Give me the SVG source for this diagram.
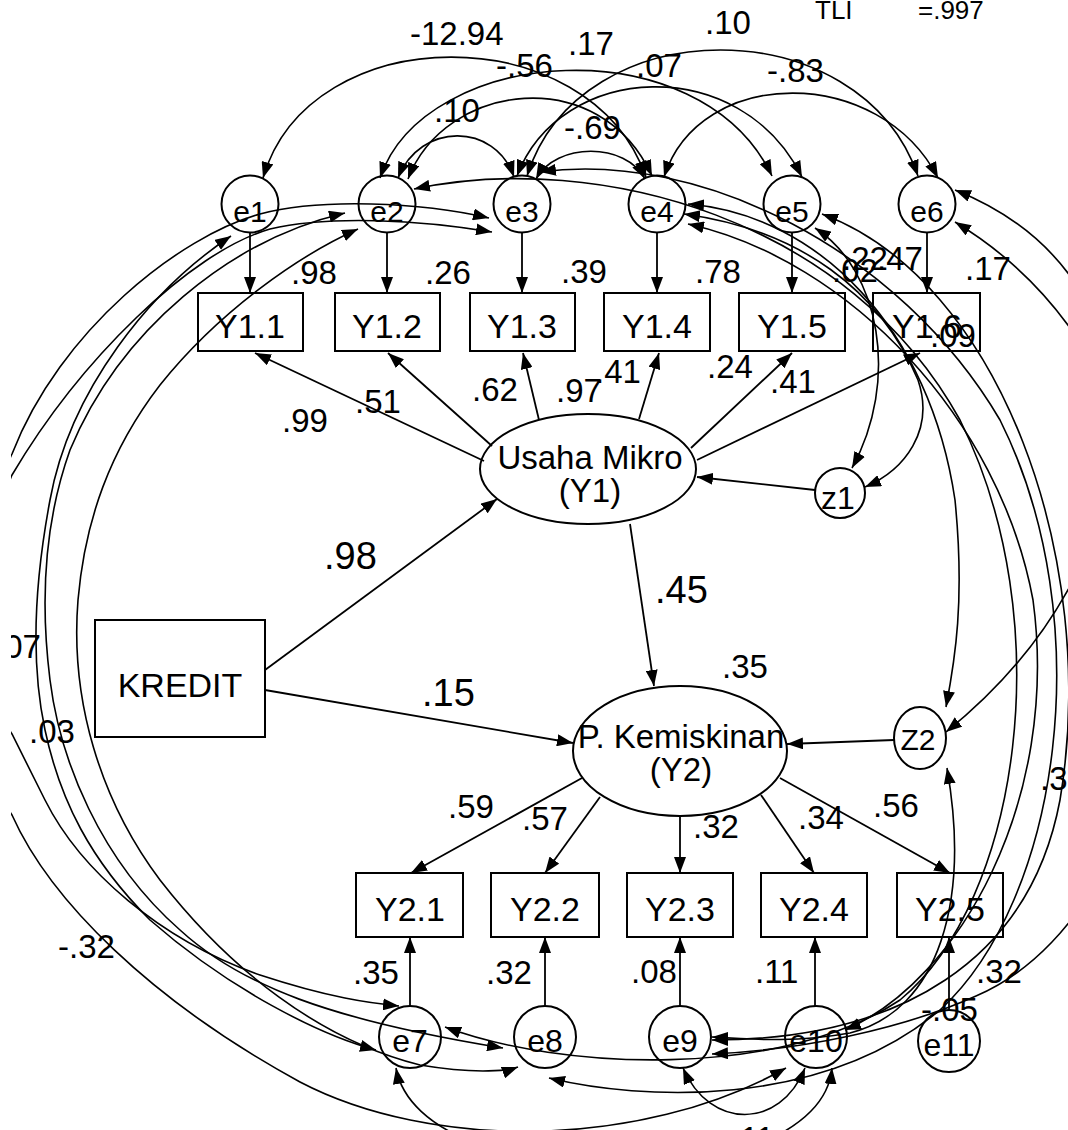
<svg xmlns="http://www.w3.org/2000/svg" width="1068" height="1130" viewBox="0 0 1068 1130">
<defs>
<marker id="ah" viewBox="0 0 16 12" refX="16" refY="6" markerWidth="16" markerHeight="12" markerUnits="userSpaceOnUse" orient="auto-start-reverse"><path d="M0,0 L16,6 L0,12 z" fill="#000"/></marker>
<clipPath id="clip"><rect x="11" y="0" width="1057" height="1130"/></clipPath>
</defs>
<style>
.nd{fill:none;stroke:#000;stroke-width:2}
.p{fill:none;stroke:#000;stroke-width:1.8;marker-end:url(#ah)}
.c{fill:none;stroke:#000;stroke-width:1.6;marker-start:url(#ah);marker-end:url(#ah)}
text{font-family:"Liberation Sans",Arial,sans-serif;fill:#000}
.bl{font-size:34px;text-anchor:middle}
.el{font-size:30px;text-anchor:middle}
.eb{font-size:32px;text-anchor:middle}
.nl{font-size:33px}
.sl{font-size:38px}
.fit{font-size:26px}
</style>
<rect width="1068" height="1130" fill="#fff"/>
<g clip-path="url(#clip)">
<g id="connectors">
<!-- top covariances -->
<path class="c" d="M263,178 C310,17 590,17 646,177"/>
<path class="c" d="M398,178 C420,122 495,122 514,177"/>
<path class="c" d="M380,178 C425,45 700,25 772,176"/>
<path class="c" d="M408,179 C445,82 600,62 652,176"/>
<path class="c" d="M536,179 C556,142 626,142 645,179"/>
<path class="c" d="M517,176 C560,62 740,52 802,177"/>
<path class="c" d="M527,176 C580,8 860,8 918,176"/>
<path class="c" d="M664,177 C700,65 880,65 938,178"/>
<!-- left covariances -->
<path class="c" d="M489,218 C420,202 320,198 260,214 C180,236 60,330 12,454 C-50,580 -50,720 12,815 C50,900 150,1000 300,1082 C430,1150 640,1150 786,1068"/>
<path class="c" d="M492,232 C420,220 330,215 270,229 C190,252 80,360 12,475 C-25,560 -25,680 12,734 C30,770 40,790 45,800 C80,870 160,940 260,975 C330,998 370,1003 399,1006"/>
<path class="c" d="M231,236 C150,290 70,390 50,500 C35,580 30,660 45,730 C60,800 90,860 150,920 C230,990 320,1035 376,1050"/>
<path class="c" d="M345,213 C230,240 120,330 70,450 C45,520 40,600 50,680 C60,760 100,860 180,930 C240,985 330,1020 503,1048"/>
<path class="c" d="M358,229 C300,255 220,310 160,385 C110,450 85,520 78,600 C70,700 100,800 160,880 C230,970 320,1040 420,1065 C480,1075 510,1070 518,1067"/>
<!-- right covariances -->
<path class="c" d="M414,189 C600,150 850,220 960,420 C1060,620 1020,900 900,1000 C780,1080 560,1070 445,1027"/>
<path class="c" d="M540,172 C700,150 900,250 1000,420 C1100,620 1060,900 940,1010 C820,1110 640,1100 549,1078"/>
<path class="c" d="M688,204 C820,215 930,330 955,500 C965,600 955,660 946,707"/>
<path class="c" d="M688,224 C850,260 1000,420 1033,600 C1060,800 960,980 845,1030"/>
<path class="c" d="M822,214 C1000,280 1100,560 1060,800 C1030,960 900,1040 712,1040"/>
<path class="c" d="M815,228 C880,270 900,380 852,468"/>
<path class="c" d="M684,214 C800,230 880,290 918,380 C935,430 905,470 865,487"/>
<path class="c" d="M955,190 C1180,280 1160,560 946,732"/>
<path class="c" d="M955,222 C1250,400 1200,900 976,996 C900,1030 800,1050 712,1054"/>
<path class="c" d="M947,768 C970,900 940,1010 850,1033 C800,1042 760,1040 712,1037"/>
<path class="c" d="M396,1068 C420,1200 820,1200 832,1068"/>
<path class="c" d="M683,1068 C710,1130 780,1130 805,1068"/>
<!-- regression paths -->
<path class="p" d="M484,461 L255,353"/>
<path class="p" d="M492,446 L388,353"/>
<path class="p" d="M539,420 L523,353"/>
<path class="p" d="M639,419 L659,353"/>
<path class="p" d="M691,448 L792,353"/>
<path class="p" d="M697,460 L920,353"/>
<path class="p" d="M815,490 L697,477"/>
<path class="p" d="M265,670 L497,499"/>
<path class="p" d="M265,690 L573,743"/>
<path class="p" d="M630,524 L654,686"/>
<path class="p" d="M894,740 L787,744"/>
<path class="p" d="M582,778 L411,873"/>
<path class="p" d="M600,797 L545,873"/>
<path class="p" d="M680,816 L680,873"/>
<path class="p" d="M761,795 L814,873"/>
<path class="p" d="M780,778 L950,873"/>
<path class="p" d="M250,232 L250,293"/>
<path class="p" d="M387,232 L387,293"/>
<path class="p" d="M522,232 L522,293"/>
<path class="p" d="M657,232 L657,293"/>
<path class="p" d="M792,232 L792,293"/>
<path class="p" d="M927,232 L927,293"/>
<path class="p" d="M410,1006 L410,937"/>
<path class="p" d="M545,1006 L545,937"/>
<path class="p" d="M680,1006 L680,937"/>
<path class="p" d="M815,1006 L815,937"/>
<path class="p" d="M949,1010 L949,937"/>
</g>
<g id="e1"><circle class="nd" cx="250" cy="204" r="28.5"/><text class="el" x="250" y="222">e1</text></g>
<g id="e2"><circle class="nd" cx="387" cy="204" r="28.5"/><text class="el" x="387" y="222">e2</text></g>
<g id="e3"><circle class="nd" cx="522" cy="204" r="28.5"/><text class="el" x="522" y="222">e3</text></g>
<g id="e4"><circle class="nd" cx="657" cy="204" r="28.5"/><text class="el" x="657" y="222">e4</text></g>
<g id="e5"><circle class="nd" cx="792" cy="204" r="28.5"/><text class="el" x="792" y="222">e5</text></g>
<g id="e6"><circle class="nd" cx="927" cy="204" r="28.5"/><text class="el" x="927" y="222">e6</text></g>
<g id="Y1.1"><rect class="nd" x="198" y="293" width="105" height="58"/><text class="bl" x="250" y="338">Y1.1</text></g>
<g id="Y1.2"><rect class="nd" x="335" y="293" width="105" height="58"/><text class="bl" x="387" y="338">Y1.2</text></g>
<g id="Y1.3"><rect class="nd" x="470" y="293" width="105" height="58"/><text class="bl" x="522" y="338">Y1.3</text></g>
<g id="Y1.4"><rect class="nd" x="604" y="293" width="106" height="58"/><text class="bl" x="657" y="338">Y1.4</text></g>
<g id="Y1.5"><rect class="nd" x="739" y="293" width="106" height="58"/><text class="bl" x="792" y="338">Y1.5</text></g>
<g id="Y1.6"><rect class="nd" x="873" y="293" width="107" height="58"/><text class="bl" x="927" y="338">Y1.6</text></g>
<g id="Y1"><ellipse class="nd" cx="588" cy="469" rx="108" ry="55"/><text class="nl" x="590" y="469" text-anchor="middle">Usaha Mikro</text><text class="nl" x="590" y="502" text-anchor="middle">(Y1)</text></g>
<g id="z1"><circle class="nd" cx="840" cy="493" r="25"/><text class="eb" x="838" y="509">z1</text></g>
<g id="KREDIT"><rect class="nd" x="95" y="620" width="170" height="117"/><text class="bl" x="180" y="697">KREDIT</text></g>
<g id="Y2"><ellipse class="nd" cx="680" cy="751" rx="107" ry="65"/><text x="681" y="748" font-size="33" text-anchor="middle">P. Kemiskinan</text><text x="681" y="781" font-size="33" text-anchor="middle">(Y2)</text></g>
<g id="Z2"><ellipse class="nd" cx="920" cy="738" rx="26" ry="31"/><text class="el" x="918" y="750">Z2</text></g>
<g id="Y2.1"><rect class="nd" x="356" y="873" width="107" height="64"/><text class="bl" x="410" y="921">Y2.1</text></g>
<g id="Y2.2"><rect class="nd" x="491" y="873" width="108" height="64"/><text class="bl" x="545" y="921">Y2.2</text></g>
<g id="Y2.3"><rect class="nd" x="627" y="873" width="106" height="64"/><text class="bl" x="680" y="921">Y2.3</text></g>
<g id="Y2.4"><rect class="nd" x="761" y="873" width="106" height="64"/><text class="bl" x="814" y="921">Y2.4</text></g>
<g id="Y2.5"><rect class="nd" x="897" y="873" width="106" height="64"/><text class="bl" x="950" y="921">Y2.5</text></g>
<g id="e7"><circle class="nd" cx="410" cy="1037" r="31"/><text class="eb" x="410" y="1052">e7</text></g>
<g id="e8"><circle class="nd" cx="545" cy="1037" r="31"/><text class="eb" x="545" y="1052">e8</text></g>
<g id="e9"><circle class="nd" cx="680" cy="1037" r="31"/><text class="eb" x="680" y="1052">e9</text></g>
<g id="e10"><circle class="nd" cx="816" cy="1037" r="31"/><text class="eb" x="816" y="1052">e10</text></g>
<g id="e11"><circle class="nd" cx="949" cy="1041" r="31"/><text class="eb" x="949" y="1056">e11</text></g>
<g id="labels">
<text class="fit" x="815" y="19">TLI</text><text class="fit" x="918" y="19">=.997</text>
<text class="nl" x="410" y="45" font-size="34">-12.94</text>
<text class="nl" x="496" y="77">-.56</text>
<text class="nl" x="568" y="55">.17</text>
<text class="nl" x="434" y="122">.10</text>
<text class="nl" x="636" y="77">.07</text>
<text class="nl" x="705" y="34">.10</text>
<text class="nl" x="767" y="82">-.83</text>
<text class="nl" x="564" y="139">-.69</text>
<text class="nl" x="291" y="284">.98</text>
<text class="nl" x="425" y="284">.26</text>
<text class="nl" x="561" y="283">.39</text>
<text class="nl" x="695" y="283">.78</text>
<text class="nl" x="832" y="282">.02</text>
<text class="nl" x="842" y="270">.22</text>
<text class="nl" x="877" y="270">.47</text>
<text class="nl" x="965" y="280">.17</text>
<text class="nl" x="930" y="347">.09</text>
<text class="nl" x="282" y="432">.99</text>
<text class="nl" x="355" y="413">.51</text>
<text class="nl" x="472" y="401">.62</text>
<text class="nl" x="556" y="402">.97</text>
<text class="nl" x="595" y="383">.41</text>
<text class="nl" x="707" y="378">.24</text>
<text class="nl" x="770" y="393">.41</text>
<text class="sl" x="324" y="569">.98</text>
<text class="sl" x="422" y="706">.15</text>
<text class="sl" x="655" y="603">.45</text>
<text class="nl" x="722" y="678">.35</text>
<text class="nl" x="448" y="818">.59</text>
<text class="nl" x="522" y="830">.57</text>
<text class="nl" x="693" y="838">.32</text>
<text class="nl" x="798" y="829">.34</text>
<text class="nl" x="873" y="817">.56</text>
<text class="nl" x="353" y="984">.35</text>
<text class="nl" x="486" y="984">.32</text>
<text class="nl" x="631" y="983">.08</text>
<text class="nl" x="755" y="983">.11</text>
<text class="nl" x="976" y="983">.32</text>
<text class="nl" x="921" y="1021">-.05</text>
<text class="nl" x="58" y="958">-.32</text>
<text class="nl" x="29" y="743">.03</text>
<text class="nl" x="-5" y="658">.07</text>
<text class="nl" x="1040" y="790">.3</text>
<text class="nl" x="731" y="1150">.11</text>
</g>
</g>
</svg>
